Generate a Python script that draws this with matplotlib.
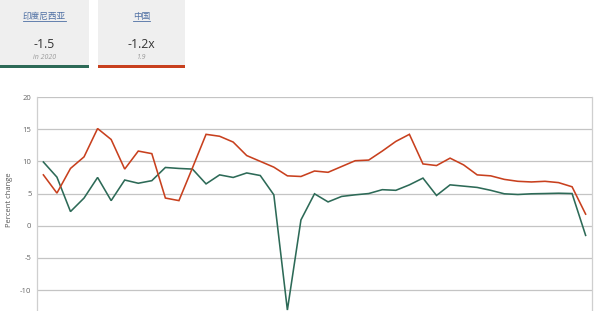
import matplotlib
matplotlib.use("Agg")
import matplotlib.pyplot as plt
from matplotlib.patches import Rectangle
from matplotlib.lines import Line2D
import numpy as np

plt.rcParams['font.family'] = ['Open Sans', 'Noto Sans CJK SC', 'DejaVu Sans']

# Data
indonesia = [9.9, 7.55, 2.2, 4.3, 7.5, 3.9, 7.1, 6.6, 7.0, 9.05, 8.9, 8.8, 6.5, 7.9,
             7.5, 8.2, 7.8, 4.8, -13.1, 0.9, 4.96, 3.7, 4.55, 4.8, 5.0, 5.6, 5.5,
             6.35, 7.4, 4.7, 6.35, 6.15, 5.95, 5.5, 4.96, 4.85, 4.96, 5.0, 5.05, 5.0, -1.5]
china = [7.9, 5.07, 8.9, 10.7, 15.1, 13.4, 8.8, 11.6, 11.2, 4.3, 3.9, 9.0, 14.2, 13.9,
         13.0, 10.9, 10.0, 9.1, 7.75, 7.65, 8.5, 8.3, 9.2, 10.1, 10.2, 11.6, 13.1,
         14.2, 9.6, 9.35, 10.5, 9.45, 7.9, 7.75, 7.2, 6.9, 6.8, 6.9, 6.7, 6.05, 1.8]
yticks = [-10, -5, 0, 5, 10, 15, 20]
card_titles = ["印度尼西亚", "中国"]
card_values = ["-1.5", "-1.2x"]
card_subs = ["in 2020", "1.9"]

green = "#2d6a57"
red = "#c8401e"

W, H = 600, 311
fig = plt.figure(figsize=(W / 100, H / 100), dpi=100)
fig.patch.set_facecolor("white")

def fx(px):
    return px / W

def fy(py):
    return 1 - py / H

ax = fig.add_axes([fx(37), 0, fx(592) - fx(37), fy(97)])
x = np.arange(len(indonesia))
ax.plot(x, indonesia, color=green, lw=1.15, solid_joinstyle="miter")
ax.plot(x, china, color=red, lw=1.15, solid_joinstyle="miter")
ax.set_xlim(-0.47, len(x) - 1 + 0.47)
ax.set_ylim(-13.25, 20)
ax.set_yticks(yticks)
ax.set_yticklabels([str(t) for t in yticks])
ax.set_xticks([])
ax.grid(axis="y", color="#c4c4c4", lw=0.9)
ax.set_axisbelow(True)
for s in ["top", "bottom"]:
    ax.spines[s].set_visible(False)
for s in ["left", "right"]:
    ax.spines[s].set_color("#cfcfcf")
    ax.spines[s].set_linewidth(0.9)
ax.tick_params(axis="y", length=0, pad=4, labelsize=5.5, labelcolor="#666666")
ax.set_ylabel("Percent change", fontsize=5.5, color="#555555")
ax.yaxis.set_label_coords(-(37 - 13) / (592 - 37), (311 - 200) / (311 - 97))

# Cards
cards = [(0, 89, green), (98, 185, red)]
for (x0, x1, col), title, val, sub in zip(cards, card_titles, card_values, card_subs):
    fig.patches.append(Rectangle((fx(x0), fy(65)), fx(x1 - x0), fy(0) - fy(65),
                                 transform=fig.transFigure, facecolor="#efefef",
                                 edgecolor="none", zorder=0))
    fig.patches.append(Rectangle((fx(x0), fy(68)), fx(x1 - x0), fy(65) - fy(68),
                                 transform=fig.transFigure, facecolor=col,
                                 edgecolor="none", zorder=1))
    cx = (x0 + x1) / 2
    fig.text(fx(cx), fy(16), title, ha="center", va="center", fontsize=6.2,
             color="#4d6fa3", family=["Noto Sans CJK SC", "DejaVu Sans"])
    half = 4.2 * len(title) + 0.5
    fig.add_artist(Line2D([fx(cx - half), fx(cx + half)], [fy(21), fy(21)],
                          transform=fig.transFigure, color="#4d6fa3", lw=0.6))
    fig.text(fx(cx), fy(44), val, ha="center", va="center", fontsize=8.8, color="#333333")
    fig.text(fx(cx), fy(57.5), sub, ha="center", va="center", fontsize=5,
             color="#9a9a9a", style="italic")

fig.savefig("out.png", dpi=100)
